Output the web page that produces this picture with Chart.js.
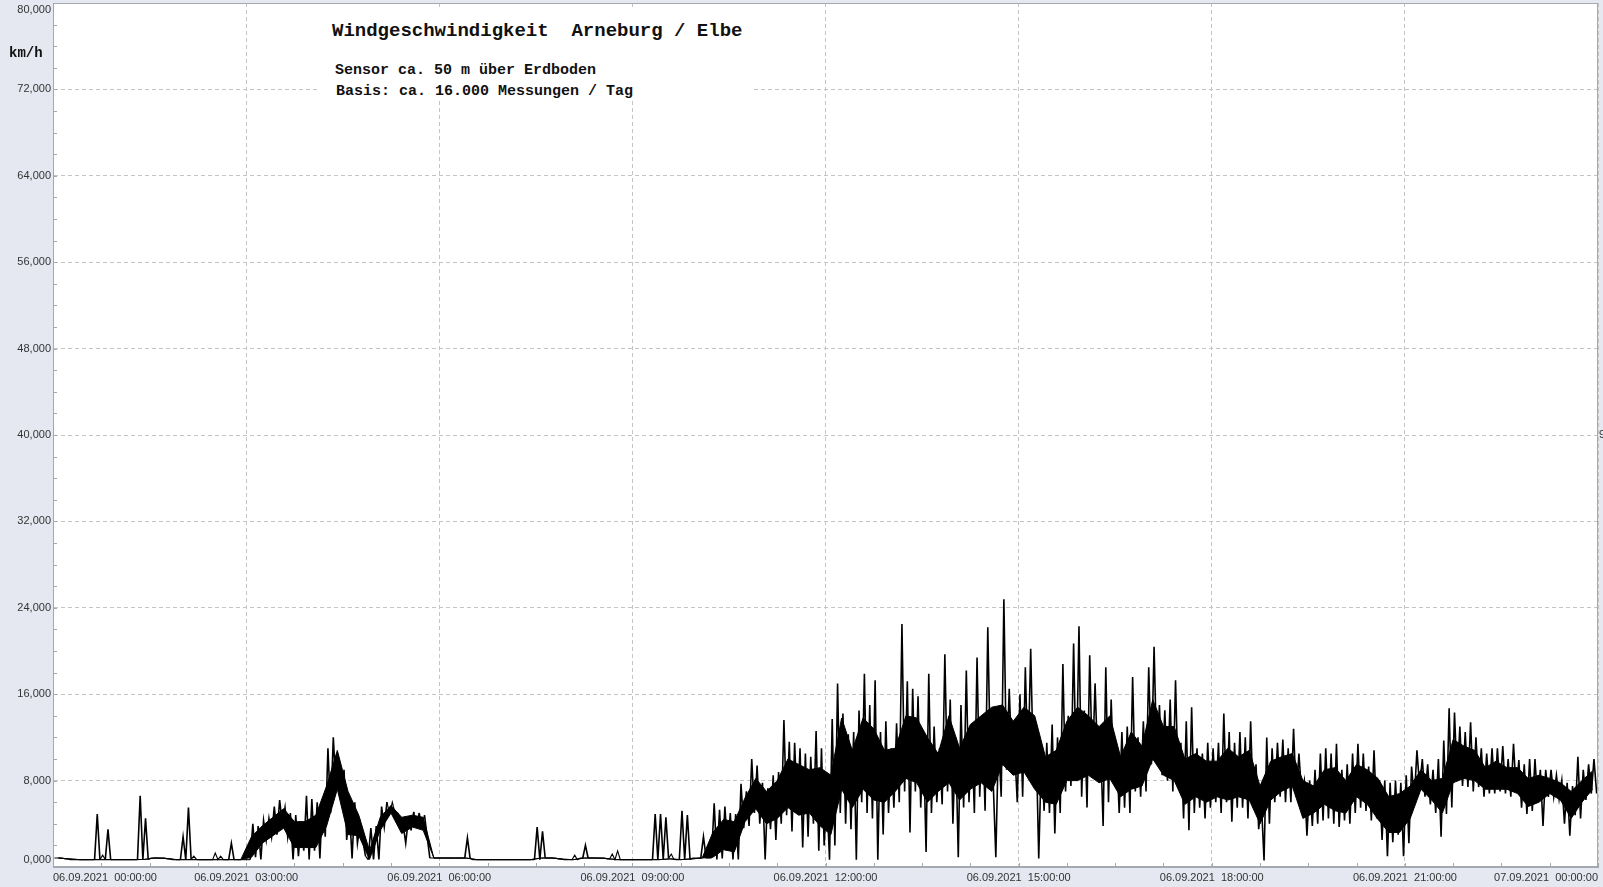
<!DOCTYPE html>
<html lang="de">
<head>
<meta charset="utf-8">
<title>Windgeschwindigkeit Arneburg / Elbe</title>
<script src="https://cdn.jsdelivr.net/npm/chart.js@4.4.1/dist/chart.umd.min.js"></script>
<style>
  html, body { margin: 0; padding: 0; }
  body { width: 1603px; height: 887px; overflow: hidden; background: #e5e8f0; position: relative; }
  #chart { position: absolute; left: 0; top: 0; }
  .box { position: absolute; left: 320px; top: 10px; width: 432px; height: 90px; background: #fff; }
  .txt { position: absolute; white-space: pre; font-family: "Liberation Mono", "Courier New", monospace; color: #111; }
  #title { left: 332px; top: 22px; font-size: 19px; line-height: 19px; font-weight: bold; }
  #sub1 { left: 335px; top: 63px; font-size: 15px; line-height: 15px; font-weight: bold; }
  #sub2 { left: 336px; top: 84px; font-size: 15px; line-height: 15px; font-weight: bold; }
  #unit { left: 9px; top: 46px; font-size: 14px; line-height: 14px; font-weight: bold; }
  #cut { position: absolute; left: 1599px; top: 428px; font: 11px "Liberation Sans", Arial, sans-serif; color: #333; }
</style>
</head>
<body>
<canvas id="chart" width="1603" height="887"></canvas>
<div class="box"></div>
<div class="txt" id="title">Windgeschwindigkeit  Arneburg / Elbe</div>
<div class="txt" id="sub1">Sensor ca. 50 m über Erdboden</div>
<div class="txt" id="sub2">Basis: ca. 16.000 Messungen / Tag</div>
<div class="txt" id="unit">km/h</div>
<div id="cut">9</div>
<script>
// 5-minute buckets over the day (06.09.2021 00:00 - 07.09.2021 00:00), one row per hour
// highest reading in each bucket (km/h)
const peakKmh = [
  .83,.83,.75,.68,.68,.68,.68,.68,4.9,1.1,3.5,.68,
  .68,.68,.68,.68,6.6,4.5,.83,.83,.83,.75,.68,.68,
  2.8,5.5,1.0,.68,.68,.68,1.3,1.0,.68,2.2,.68,.68,
  .68,4.0,3.8,4.3,4.5,5.6,6.2,5.5,5.0,4.8,4.2,6.6,
  6.3,6.0,6.3,11.0,12.0,9.2,9.0,5.3,6.0,4.0,1.0,3.6,
  3.8,5.6,6.0,6.0,5.0,4.0,4.5,5.1,5.0,4.8,.83,.83,
  .83,.83,.83,.83,.83,2.7,.68,.68,.68,.68,.68,.68,
  .68,.68,.68,.68,.68,.68,3.7,3.3,.83,.83,.75,.68,
  .68,1.1,.83,2.0,.83,.83,.83,.75,1.2,1.5,.68,.68,
  .68,.68,.68,.68,4.9,4.9,4.6,1.2,.68,5.2,4.8,.83,
  .83,2.8,.83,5.9,5.3,5.6,5.0,4.9,7.7,7.0,10.0,9.4,
  7.8,7.3,8.5,8.8,13.6,11.6,11.5,11.0,10.5,10.2,12.6,11.0,
  6.7,13.7,17.0,14.2,12.3,12.5,14.5,17.9,15.0,17.3,12.5,13.5,
  11.0,13.3,22.5,17.2,16.5,15.8,12.0,17.9,13.0,11.0,19.7,15.5,
  12.0,15.0,18.2,13.0,19.4,13.6,22.2,8.0,12.0,24.8,16.5,11.0,
  16.0,18.5,20.2,12.0,10.5,11.5,13.2,12.0,18.8,14.0,20.7,22.3,
  14.5,19.6,17.0,12.0,18.5,15.5,11.0,12.5,13.0,17.6,12.0,13.5,
  18.5,20.4,15.0,14.5,15.5,17.3,11.5,13.5,14.8,11.0,10.5,11.5,
  11.0,11.5,14.2,12.5,11.5,12.5,12.0,13.5,9.5,6.0,12.0,11.0,
  11.5,11.8,11.0,12.8,10.5,8.0,8.0,9.0,10.5,11.0,10.5,11.4,
  9.0,9.5,10.5,11.4,10.5,9.3,10.8,8.0,8.0,7.8,8.0,7.8,
  8.5,9.3,10.8,10.0,9.5,9.0,10.0,11.7,14.7,14.3,13.0,12.5,
  13.4,12.0,11.0,10.5,11.0,11.0,11.2,10.0,11.4,9.9,9.5,10.0,
  10.0,9.0,9.0,9.0,8.5,8.0,7.8,7.5,10.2,9.0,9.5,10.0
];
// lowest reading in each bucket (km/h)
const lowKmh = [
  .83,.83,.75,.68,.68,.68,.68,.68,.68,.7,.68,.68,
  .68,.68,.68,.68,.7,.7,.83,.83,.83,.75,.68,.68,
  .68,.7,.7,.68,.68,.68,.68,.68,.68,.68,.68,.68,
  .68,.9,.7,2.5,2.8,3.0,4.0,2.8,.7,1.0,1.5,.7,
  1.5,.8,2.8,5.0,7.3,7.0,2.5,.8,2.2,2.5,.68,.7,
  .7,3.7,4.9,5.0,3.6,2.2,3.4,4.0,3.7,2.8,.83,.83,
  .83,.83,.83,.83,.83,.83,.68,.68,.68,.68,.68,.68,
  .68,.68,.68,.68,.68,.68,.68,.83,.83,.83,.75,.68,
  .68,.68,.83,.83,.83,.83,.83,.75,.68,.68,.68,.68,
  .68,.68,.68,.68,.68,.7,.8,.7,.68,.68,.7,.83,
  .83,.83,.83,.7,.8,1.5,.7,.7,3.6,3.8,5.0,4.0,
  .7,3.5,2.5,4.0,4.8,3.3,5.0,1.8,2.8,4.0,1.5,2.0,
  .68,2.0,5.0,4.0,3.5,.68,6.0,5.0,4.5,.68,3.0,5.0,
  5.5,6.0,7.0,3.2,7.0,5.5,1.4,5.0,6.0,5.8,7.0,4.0,
  .9,5.5,6.0,5.0,6.5,5.2,9.5,.9,6.5,9.0,9.5,6.0,
  6.5,9.0,9.0,.8,5.2,5.0,3.1,5.0,7.0,7.5,8.0,6.5,
  5.5,9.0,9.5,3.8,6.0,8.0,5.0,5.5,5.0,7.0,6.5,7.0,
  9.5,10.0,8.5,8.0,7.0,7.5,4.5,3.4,5.0,5.5,4.5,5.5,
  6.0,5.0,6.0,4.2,5.5,5.5,4.5,5.5,3.5,.6,4.0,6.0,
  6.5,6.0,6.0,6.5,6.8,2.9,3.8,4.0,4.3,4.5,4.0,3.7,
  4.3,4.0,5.0,5.5,5.2,4.3,4.5,2.5,1.0,2.3,3.0,1.0,
  2.2,6.2,7.4,6.5,5.8,5.0,2.8,4.9,5.5,8.0,7.5,7.4,
  7.0,7.4,6.5,6.8,6.8,7.0,6.8,6.5,7.0,5.5,4.9,5.2,
  6.0,3.8,6.5,6.5,6.3,4.0,2.9,4.8,4.5,6.2,6.8,6.8
];
// 10-minute slots: band where the trace is drawn so densely it reads as solid black
const coreTop = [
  .83,.75,.68,.68,.68,.68,
  .68,.68,.7,.83,.8,.68,
  .68,.68,.68,.68,.68,.68,
  2.8,3.8,4.6,5.4,4.2,4.2,
  4.8,7.5,10.8,7.0,4.8,1.5,
  4.6,5.7,4.6,4.8,4.6,.83,
  .83,.83,.83,.68,.68,.68,
  .68,.68,.68,.83,.83,.72,
  .68,.83,.83,.8,.68,.68,
  .68,.68,.68,.75,.68,.75,
  .83,3.2,4.4,4.2,6.4,8.2,
  7.0,8.0,10.0,9.5,9.0,9.2,
  8.5,13.8,10.8,13.8,12.8,10.8,
  11.0,14.0,13.8,12.0,10.5,14.0,
  11.0,13.2,14.0,14.8,15.0,13.5,
  14.8,14.0,10.2,10.8,13.5,14.8,
  14.0,13.0,14.0,10.2,12.5,11.2,
  15.5,13.0,13.0,10.0,10.5,9.8,
  9.8,11.0,10.2,10.8,7.5,9.8,
  10.2,10.5,8.0,7.5,9.0,9.2,
  8.0,9.5,9.0,8.2,6.5,6.8,
  7.5,9.0,8.0,8.2,11.8,11.2,
  10.8,9.2,9.8,9.2,9.2,8.2,
  8.5,8.2,7.8,7.0,8.0,8.9
];
const coreBottom = [
  .83,.75,.68,.68,.68,.68,
  .68,.68,.7,.83,.8,.68,
  .68,.68,.68,.68,.68,.68,
  .9,2.2,2.9,3.6,1.8,1.8,
  1.8,3.8,7.2,3.0,2.9,.7,
  3.4,5.0,3.1,3.7,3.4,.83,
  .83,.83,.83,.68,.68,.68,
  .68,.68,.68,.83,.83,.72,
  .68,.83,.83,.8,.68,.68,
  .68,.68,.68,.75,.68,.75,
  .83,.9,1.6,1.4,4.2,5.4,
  4.0,4.5,5.5,4.8,5.0,3.8,
  3.0,7.2,5.5,7.2,6.2,6.0,
  7.0,8.2,7.8,6.0,7.0,7.8,
  6.2,7.2,7.8,7.0,9.5,8.5,
  8.8,7.2,6.0,5.8,8.0,8.0,
  8.5,7.8,8.2,6.5,7.2,7.5,
  10.0,8.5,8.0,5.8,6.5,6.0,
  6.5,6.2,6.5,6.2,4.0,6.2,
  7.0,7.5,4.5,5.0,5.8,5.2,
  5.0,6.5,5.8,4.4,3.2,3.2,
  4.5,7.2,6.2,5.0,7.8,8.2,
  8.0,7.2,7.2,7.2,6.8,5.6,
  6.0,6.8,6.2,4.5,6.0,7.2
];
const bucketMinutes = 5;
const slotMinutes = 10;
const timeLabels = [
  '06.09.2021  00:00:00', '06.09.2021  03:00:00', '06.09.2021  06:00:00',
  '06.09.2021  09:00:00', '06.09.2021  12:00:00', '06.09.2021  15:00:00',
  '06.09.2021  18:00:00', '06.09.2021  21:00:00', '07.09.2021  00:00:00'
];
const speedLabels = ['0,000', '8,000', '16,000', '24,000', '32,000', '40,000', '48,000', '56,000', '64,000', '72,000', '80,000'];

// each bucket: peak then low, like the raw trace swinging up and down
const swing = [];
peakKmh.forEach((hi, i) => {
  swing.push({ x: i * bucketMinutes + 1.25, y: hi });
  swing.push({ x: i * bucketMinutes + 3.75, y: lowKmh[i] });
});
const topPts = coreTop.map((v, j) => ({ x: j * slotMinutes + 5, y: v }));
const bottomPts = coreBottom.map((v, j) => ({ x: j * slotMinutes + 5, y: v }));

const xTicks = [];
for (let m = 0; m <= 1440; m += 45) xTicks.push(m);
const yTicks = [];
for (let v = 0; v <= 80; v += 2) yTicks.push(v);

const frame = {
  id: 'frame',
  beforeDraw(chart) {
    const { ctx, chartArea: a } = chart;
    ctx.save();
    ctx.fillStyle = '#fff';
    ctx.fillRect(a.left, a.top, a.right - a.left, a.bottom - a.top);
    ctx.restore();
  },
  afterDraw(chart) {
    const { ctx, chartArea: a, scales } = chart;
    ctx.save();
    ctx.strokeStyle = '#a4a8b0';
    ctx.lineWidth = 1;
    ctx.beginPath();
    scales.x.ticks.forEach(t => {
      const px = Math.round(scales.x.getPixelForValue(t.value)) + 0.5;
      ctx.moveTo(px, a.bottom);
      ctx.lineTo(px, a.bottom - 4);
    });
    scales.y.ticks.forEach(t => {
      const py = Math.round(scales.y.getPixelForValue(t.value)) + 0.5;
      ctx.moveTo(a.left, py);
      ctx.lineTo(a.left + 4, py);
    });
    ctx.stroke();
    ctx.strokeRect(a.left + 0.5, a.top + 0.5, a.right - a.left - 1, a.bottom - a.top - 1);
    ctx.restore();
  }
};

const lineStyle = { borderColor: '#000', pointRadius: 0, tension: 0 };

new Chart(document.getElementById('chart'), {
  type: 'line',
  data: {
    datasets: [
      { ...lineStyle, data: topPts, borderWidth: 1, fill: false },
      { ...lineStyle, data: bottomPts, borderWidth: 1, fill: '-1', backgroundColor: '#000' },
      {
        ...lineStyle,
        data: swing,
        borderWidth: 1.1,
        fill: false,
        // steep swings a little heavier so the trace reads as a dense field of strokes
        segment: { borderWidth: c => (Math.abs(c.p1.y - c.p0.y) > 12 ? 1.6 : 1.1) }
      }
    ]
  },
  options: {
    responsive: false,
    animation: false,
    devicePixelRatio: 1,
    layout: { padding: { top: 3, right: 5, bottom: 3, left: 0 } },
    plugins: { legend: { display: false }, tooltip: { enabled: false } },
    scales: {
      x: {
        type: 'linear',
        min: 0,
        max: 1440,
        afterBuildTicks: s => { s.ticks = xTicks.map(v => ({ value: v })); },
        afterFit: s => { s.height = 17; s.paddingLeft = 0; s.paddingRight = 0; },
        ticks: {
          autoSkip: false,
          maxRotation: 0,
          align: 'inner',
          padding: 4,
          color: '#333',
          font: { family: '"Liberation Sans", Arial, sans-serif', size: 11 },
          callback: v => (v % 180 === 0 ? timeLabels[v / 180] : '')
        },
        grid: {
          drawTicks: false,
          color: c => (c.tick && c.tick.value % 180 === 0 ? '#c4c4c4' : 'rgba(0,0,0,0)')
        },
        border: { color: '#a4a8b0', dash: [4, 3] }
      },
      y: {
        min: 0,
        max: 80,
        afterBuildTicks: s => { s.ticks = yTicks.map(v => ({ value: v })); },
        afterFit: s => { s.width = 53; s.paddingTop = 0; s.paddingBottom = 0; },
        ticks: {
          autoSkip: false,
          padding: 2,
          color: '#333',
          font: { family: '"Liberation Sans", Arial, sans-serif', size: 11 },
          callback: v => {
            if (v % 8 !== 0) return '';
            const label = speedLabels[v / 8];
            if (v === 80) return ['', label];
            if (v === 0) return [label, ''];
            return label;
          }
        },
        grid: {
          drawTicks: false,
          color: c => (c.tick && c.tick.value % 8 === 0 ? '#c4c4c4' : 'rgba(0,0,0,0)')
        },
        border: { color: '#a4a8b0', dash: [4, 3] }
      }
    }
  },
  plugins: [frame]
});
</script>
</body>
</html>
